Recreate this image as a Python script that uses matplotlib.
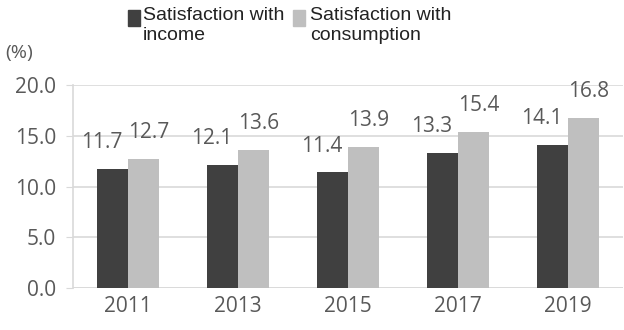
import matplotlib.pyplot as plt
import matplotlib.font_manager as fm
from matplotlib.patches import Rectangle
import numpy as np

years = ['2011', '2013', '2015', '2017', '2019']
income = [11.7, 12.1, 11.4, 13.3, 14.1]
consumption = [12.7, 13.6, 13.9, 15.4, 16.8]
series_names = ['Satisfaction with\nincome', 'Satisfaction with\nconsumption']

dark = '#404040'
light = '#bfbfbf'
txt = '#595959'
grid = '#d9d9d9'

names = {f.name for f in fm.fontManager.ttflist}
num_font = 'Open Sans' if 'Open Sans' in names else 'DejaVu Sans'
leg_font = 'Liberation Sans Narrow' if 'Liberation Sans Narrow' in names else 'Liberation Sans'

W, H = 624, 330
fig = plt.figure(figsize=(W / 100, H / 100), dpi=100)
ax = fig.add_axes([0.117, 0.127, 0.881, 0.615])

x = np.arange(len(years))
w = 0.28
ax.bar(x - w / 2, income, w, color=dark, zorder=3)
ax.bar(x + w / 2, consumption, w, color=light, zorder=3)

# value labels (shifted a bit like the original)
for i in range(len(years)):
    ax.annotate(f'{income[i]:.1f}', (x[i] - w / 2, income[i]), xytext=(-8, 19),
                textcoords='offset points', ha='center', va='center',
                fontsize=15, color=txt, family=num_font)
    ax.annotate(f'{consumption[i]:.1f}', (x[i] + w / 2, consumption[i]), xytext=(4, 19),
                textcoords='offset points', ha='center', va='center',
                fontsize=15, color=txt, family=num_font)

ax.set_xlim(-0.5, len(years) - 0.5)
ax.set_ylim(0, 20)
ax.set_yticks([0, 5, 10, 15, 20])
ax.set_yticklabels([f'{v:.1f}' for v in [0, 5, 10, 15, 20]], family=num_font, fontsize=15, color=txt)
ax.set_xticks(x)
ax.set_xticklabels(years, family=num_font, fontsize=15, color=txt)
ax.tick_params(axis='y', length=5, color=grid, pad=7)
ax.tick_params(axis='x', length=0, pad=6)
ax.yaxis.grid(True, color=grid, linewidth=1.2, zorder=0)
for s in ['top', 'right', 'bottom']:
    ax.spines[s].set_visible(False)
ax.spines['left'].set_color(grid)
ax.spines['left'].set_linewidth(1.2)
ax.axhline(0, color=grid, linewidth=1.2, zorder=1)

fig.text(0.008, 1 - 53 / H, '(%)', family=num_font, fontsize=14, color=txt, va='center')

# legend drawn by hand: swatch aligned with first text line
for (sx, tx), col, label in zip([(128, 143), (293, 310)], [dark, light], series_names):
    fig.add_artist(Rectangle((sx / W, 1 - 26 / H), 12 / W, 16 / H,
                             transform=fig.transFigure, color=col))
    fig.text(tx / W, 1 - 7 / H, label, family=leg_font, fontsize=14,
             color='#222222', va='top', ha='left', linespacing=1.25)

fig.savefig('out.png', dpi=100)
